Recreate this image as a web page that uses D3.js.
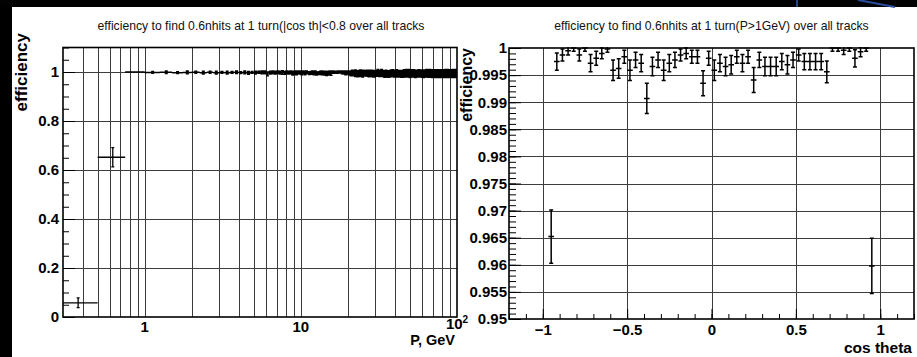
<!DOCTYPE html>
<html>
<head>
<meta charset="utf-8">
<script src="https://cdn.jsdelivr.net/npm/d3@7/dist/d3.min.js"></script>
<style>
html, body { margin: 0; padding: 0; background: #fff; }
svg { display: block; font-family: "Liberation Sans", Arial, Helvetica, sans-serif; }
</style>
</head>
<body>
<svg id="chart" width="917" height="357"></svg>
<script>

// ---- left pad: efficiency vs P ----
var pTitle = "efficiency to find 0.6nhits at 1 turn(|cos th|<0.8 over all tracks";
var pBinWidth = 0.25;
var pFirstEdge = 0.25;
var pLowEff = [0.058, 0.652];
var pLowErr = [0.020, 0.039];
// bins from 0.75 GeV up: efficiency loss in units of 0.001, error in units of 0.002
var pLoss = "0213213132 3213242312 2832313242 3253423414 2354263745 3465374526 1011010101 2132413243 " +
    "5846375948 6385749263 7594836475 4867395846 8365947538 5749386457 6958473695 3847596847 " +
    "7485936574 5968473859 4785963748 6937485967 8475693847 5869374856 7396485739 4857963857 " +
    "6948375968 5738496847 8569374859 6847593746 7958364857 4869375948 5793846957 8364957486 " +
    "6975384756 4758693847 7869354968 5947386475 6385947586 7496385947 5837496857 6948375";
var pErrU = "0232323232 3232332323 3433333433 3343433434 3233334323 3434343434 2212122121 3333433343 " +
    "5465547546 6547546554 5646557465 6557465546 5746556475 6556475645 5647564756 6475564657 " +
    "5764656475 6547565746 7565647566 5676546757 6757566475 5667576465 7566757646 6576465767 " +
    "5767656476 6675764657 7656767565 6767576476 5776676567 7667567776 6776757667 7567767676 " +
    "6777676767 7676777667 6777767776 7767677767 7677776777 6777777677 7777677777 7777777";
var pYTicks = [0, 0.2, 0.4, 0.6, 0.8, 1];
var pXLabels = [{ v: 1, t: "1" }, { v: 10, t: "10" }, { v: 100, t: "10", sup: "2" }];

// ---- right pad: efficiency vs cos theta ----
var cTitle = "efficiency to find 0.6nhits at 1 turn(P>1GeV) over all tracks";
var cBinWidth = 2 / 60;
var cFirstCenter = -0.95;
var cEff = [0.9652,
    0.9975, 0.9987, 0.9995, 1.0, 0.9987, 1.0, 0.9972, 0.9981, 0.9990, 0.9998,
    0.9959, 0.9962, 0.9984, 0.9959, 0.9978, 0.9972, 0.9907, 0.9966, 0.9978, 0.9959,
    0.9972, 0.9978, 0.9987, 0.9990, 0.9984, 0.9984, 0.9935, 0.9981, 0.9959, 0.9972,
    0.9966, 0.9969, 0.9984, 0.9972, 0.9984, 0.9941, 0.9978, 0.9966, 0.9966, 0.9966,
    0.9975, 0.9969, 0.9978, 0.9987, 0.9975, 0.9975, 0.9975, 0.9975, 0.9956, 1.0,
    1.0, 0.9996, 1.0, 0.9981, 0.9993, 1.0,
    0.9598];
var cErr = [0.0049,
    0.0016, 0.0011, 0.0008, 0.0006, 0.0011, 0.0006, 0.0016, 0.0013, 0.0010, 0.0006,
    0.0019, 0.0018, 0.0012, 0.0019, 0.0014, 0.0016, 0.0028, 0.0017, 0.0014, 0.0019,
    0.0016, 0.0014, 0.0011, 0.0010, 0.0012, 0.0012, 0.0023, 0.0013, 0.0019, 0.0016,
    0.0017, 0.0017, 0.0012, 0.0016, 0.0012, 0.0023, 0.0014, 0.0017, 0.0017, 0.0017,
    0.0015, 0.0017, 0.0014, 0.0011, 0.0015, 0.0015, 0.0015, 0.0015, 0.0020, 0.0006,
    0.0006, 0.0008, 0.0006, 0.0016, 0.0009, 0.0006,
    0.0051];
var cXTicks = [-1, -0.5, 0, 0.5, 1];

var svg = d3.select("#chart");

// screen background (dark strips around the canvases)
svg.append("rect").attr("width", 917).attr("height", 357).attr("fill", "#fff");
svg.append("rect").attr("x", 0).attr("y", 0).attr("width", 12).attr("height", 357).attr("fill", "#000");
svg.append("rect").attr("x", 0).attr("y", 0).attr("width", 917).attr("height", 7).attr("fill", "#020203");
svg.append("line").attr("x1", 797).attr("x2", 797).attr("y1", 0).attr("y2", 7)
    .attr("stroke", "#23448c").attr("stroke-width", 2);
svg.append("line").attr("x1", 858).attr("x2", 895).attr("y1", 0).attr("y2", 7)
    .attr("stroke", "#2a4c9c").attr("stroke-width", 2);

var defs = svg.append("defs");

function errPath(pts, x, y, cap) {
    var d = "";
    pts.forEach(function (p) {
        var yc = y(p.v), xc = x(p.c);
        d += "M" + x(p.lo) + "," + yc + "H" + x(p.hi);
        var yl = y(p.v - p.eLo), yh = y(p.v + p.eHi);
        if (p.eLo > 0 || p.eHi > 0) {
            d += "M" + xc + "," + yl + "V" + yh;
            d += "M" + (xc - cap) + "," + yl + "H" + (xc + cap);
            if (p.eHi > 0) d += "M" + (xc - cap) + "," + yh + "H" + (xc + cap);
        }
    });
    return d;
}

function frame(g, x0, y0, x1, y1) {
    g.append("rect").attr("x", x0).attr("y", y0).attr("width", x1 - x0).attr("height", y1 - y0)
        .attr("fill", "none").attr("stroke", "#000").attr("stroke-width", 1.6);
}

function styleAxis(a, size) {
    a.select(".domain").remove();
    a.selectAll("line").attr("stroke", "#000").attr("stroke-width", 1);
    a.selectAll("text").attr("font-family", "Liberation Sans, Arial, sans-serif")
        .attr("font-weight", "bold").attr("font-size", size).attr("fill", "#000");
}

// ================= left pad =================
var xP = d3.scaleLog().domain([0.3, 100]).range([63, 457]);
var yP = d3.scaleLinear().domain([0, 1.1]).range([317, 47.5]);

var pEff = pLowEff.slice(), pErr = pLowErr.slice();
var lossArr = pLoss.replace(/ /g, "").split("");
var errArr = pErrU.replace(/ /g, "").split("");
lossArr.forEach(function (c, i) {
    pEff.push(1 - (+c) * 0.001);
    pErr.push((+errArr[i]) * 0.002);
});
var pPts = pEff.map(function (v, i) {
    var lo = pFirstEdge + i * pBinWidth;
    return { lo: lo, hi: lo + pBinWidth, c: lo + pBinWidth / 2, v: v, eLo: pErr[i], eHi: pErr[i] };
});

var gp = svg.append("g");
defs.append("clipPath").attr("id", "clipP").append("rect")
    .attr("x", 63).attr("y", 47.5).attr("width", 394).attr("height", 269.5);

// grid
gp.append("g").selectAll("line").data(xP.ticks().filter(function (v) { return v > 0.3 && v < 100; }))
    .join("line")
    .attr("x1", function (d) { return Math.round(xP(d)) + 0.5; })
    .attr("x2", function (d) { return Math.round(xP(d)) + 0.5; })
    .attr("y1", 47.5).attr("y2", 317).attr("stroke", "#3c3c3c").attr("stroke-width", 1);
gp.append("g").selectAll("line").data(pYTicks.filter(function (v) { return v > 0; }))
    .join("line")
    .attr("y1", function (d) { return Math.round(yP(d)) + 0.5; })
    .attr("y2", function (d) { return Math.round(yP(d)) + 0.5; })
    .attr("x1", 63).attr("x2", 457).attr("stroke", "#3c3c3c").attr("stroke-width", 1);

// y axis (ticks point inward)
var pyMinor = gp.append("g").attr("transform", "translate(63,0)")
    .call(d3.axisLeft(yP).tickValues(yP.ticks(22)).tickSize(-6).tickFormat(""));
styleAxis(pyMinor, 15);
var pyMajor = gp.append("g").attr("transform", "translate(63,0)")
    .call(d3.axisLeft(yP).tickValues(pYTicks).tickSize(-12).tickPadding(4).tickFormat(d3.format("")));
styleAxis(pyMajor, 15);

// x labels
var pxl = gp.append("g").selectAll("text").data(pXLabels).join("text")
    .attr("x", function (d) { return xP(d.v); })
    .attr("y", function (d) { return d.sup ? 329 : 332; })
    .attr("text-anchor", "middle").attr("font-weight", "bold").attr("font-size", 15);
pxl.append("tspan").text(function (d) { return d.t; });
pxl.filter(function (d) { return d.sup; }).append("tspan")
    .attr("dy", -6).attr("font-size", 10).text(function (d) { return d.sup; });

gp.append("path").attr("clip-path", "url(#clipP)")
    .attr("d", errPath(pPts, xP, yP, 1.5))
    .attr("fill", "none").attr("stroke", "#000").attr("stroke-width", 1.3);

frame(gp, 63, 47.5, 457, 317);

gp.append("text").attr("x", 261).attr("y", 29.5).attr("text-anchor", "middle")
    .attr("font-size", 12.2).attr("fill", "#111").text(pTitle);
gp.append("text").attr("transform", "translate(27,33) rotate(-90)").attr("text-anchor", "end")
    .attr("font-weight", "bold").attr("font-size", 17).text("efficiency");
gp.append("text").attr("x", 455).attr("y", 345).attr("text-anchor", "end")
    .attr("font-weight", "bold").attr("font-size", 14.5).text("P, GeV");

// ================= right pad =================
var xC = d3.scaleLinear().domain([-1.2, 1.2]).range([509, 914]);
var yC = d3.scaleLinear().domain([0.95, 1]).range([319, 48]);

var cPts = cEff.map(function (v, i) {
    var c = cFirstCenter + i * cBinWidth;
    var eHi = v >= 0.99995 ? 0 : cErr[i];
    return { lo: c - cBinWidth / 2, hi: c + cBinWidth / 2, c: c, v: v, eLo: cErr[i], eHi: eHi };
});

var gc = svg.append("g");
defs.append("clipPath").attr("id", "clipC").append("rect")
    .attr("x", 509).attr("y", 47).attr("width", 405).attr("height", 272);

var cYTicks = yC.ticks(10);
gc.append("g").selectAll("line").data(cXTicks).join("line")
    .attr("x1", function (d) { return Math.round(xC(d)) + 0.5; })
    .attr("x2", function (d) { return Math.round(xC(d)) + 0.5; })
    .attr("y1", 48).attr("y2", 319).attr("stroke", "#3c3c3c").attr("stroke-width", 1);
gc.append("g").selectAll("line").data(cYTicks.filter(function (v) { return v > 0.95 && v < 1; }))
    .join("line")
    .attr("y1", function (d) { return Math.round(yC(d)) + 0.5; })
    .attr("y2", function (d) { return Math.round(yC(d)) + 0.5; })
    .attr("x1", 509).attr("x2", 914).attr("stroke", "#3c3c3c").attr("stroke-width", 1);

var cyMinor = gc.append("g").attr("transform", "translate(509,0)")
    .call(d3.axisLeft(yC).tickValues(yC.ticks(50)).tickSize(-7).tickFormat(""));
styleAxis(cyMinor, 15);
var cyMajor = gc.append("g").attr("transform", "translate(509,0)")
    .call(d3.axisLeft(yC).tickValues(cYTicks).tickSize(-12).tickPadding(2)
        .tickFormat(function (d) { return String(+d.toFixed(3)); }));
styleAxis(cyMajor, 15);

var cxMinor = gc.append("g").attr("transform", "translate(0,319)")
    .call(d3.axisBottom(xC).tickValues(xC.ticks(24)).tickSize(-5).tickFormat(""));
styleAxis(cxMinor, 15);
var cxMajor = gc.append("g").attr("transform", "translate(0,319)")
    .call(d3.axisBottom(xC).tickValues(cXTicks).tickSize(-10).tickPadding(5)
        .tickFormat(function (d) { return d < 0 ? "\u2212" + Math.abs(d) : String(d); }));
styleAxis(cxMajor, 15);

gc.append("path").attr("clip-path", "url(#clipC)")
    .attr("d", errPath(cPts, xC, yC, 2))
    .attr("fill", "none").attr("stroke", "#000").attr("stroke-width", 1.5);

frame(gc, 509, 48, 914, 319);

gc.append("text").attr("x", 711.5).attr("y", 29.5).attr("text-anchor", "middle")
    .attr("font-size", 12.2).attr("fill", "#111").text(cTitle);
gc.append("text").attr("transform", "translate(472,48) rotate(-90)").attr("text-anchor", "end")
    .attr("font-weight", "bold").attr("font-size", 16).text("efficiency");
gc.append("text").attr("x", 912).attr("y", 353).attr("text-anchor", "end")
    .attr("font-weight", "bold").attr("font-size", 15.5).text("cos theta");

</script>
</body>
</html>
